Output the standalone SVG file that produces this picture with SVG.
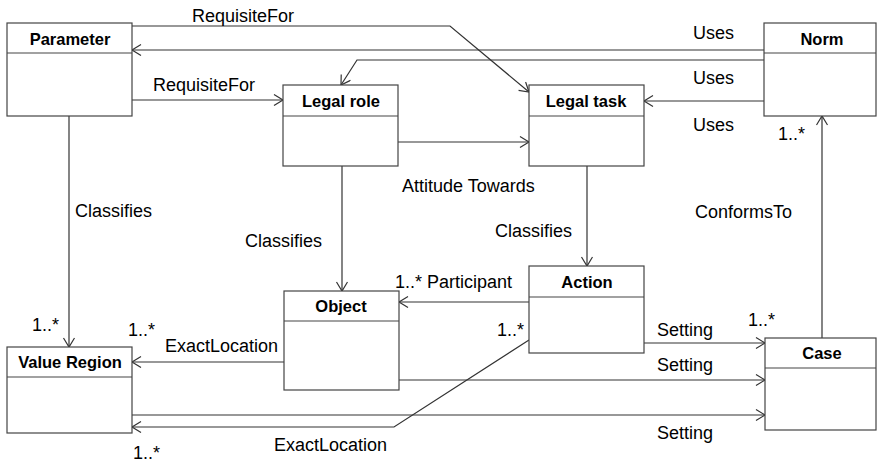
<svg xmlns="http://www.w3.org/2000/svg" width="877" height="464" viewBox="0 0 877 464">
  <style>
    .box { fill: #ffffff; stroke: #444444; stroke-width: 1.2; }
    .sep { stroke: #444444; stroke-width: 1.2; }
    .title { font-family: "Liberation Sans", Arial, sans-serif; font-size: 16.5px; font-weight: bold; fill: #000000; text-anchor: middle; }
    .lbl { font-family: "Liberation Sans", Arial, sans-serif; font-size: 18px; fill: #000000; }
    .edge { fill: none; stroke: #333333; stroke-width: 1.2; marker-end: url(#open); }
  </style>
  <defs>
    <marker id="open" markerUnits="userSpaceOnUse" markerWidth="12" markerHeight="14" refX="10" refY="6" orient="auto">
      <path d="M1,0.5 L10,6 L1,11.5" fill="none" stroke="#333333" stroke-width="1.2"/>
    </marker>
  </defs>
  <rect width="877" height="464" fill="#ffffff"/>

  <!-- associations -->
  <g id="connectors">
    <polyline class="edge" points="132,26 450,26 529,92"/>
    <polyline class="edge" points="764,50 132,50"/>
    <polyline class="edge" points="764,60 357,60 341,85"/>
    <polyline class="edge" points="132,100 283,100"/>
    <polyline class="edge" points="764,101 644,101"/>
    <polyline class="edge" points="398,142 529,142"/>
    <polyline class="edge" points="69,116 69,347"/>
    <polyline class="edge" points="342,166 342,291"/>
    <polyline class="edge" points="587,166 587,266"/>
    <polyline class="edge" points="822,338 822,116"/>
    <polyline class="edge" points="529,302 399,302"/>
    <polyline class="edge" points="284,362 132,362"/>
    <polyline class="edge" points="644,343 765,343"/>
    <polyline class="edge" points="399,380 765,380"/>
    <polyline class="edge" points="132,415 765,415"/>
    <polyline class="edge" points="529,340 394,427 132,427"/>

    <text class="lbl" x="192" y="22">RequisiteFor</text>
    <text class="lbl" x="153" y="91">RequisiteFor</text>
    <text class="lbl" x="693" y="39">Uses</text>
    <text class="lbl" x="693" y="84">Uses</text>
    <text class="lbl" x="693" y="131">Uses</text>
    <text class="lbl" x="778" y="140">1..*</text>
    <text class="lbl" x="402" y="192">Attitude Towards</text>
    <text class="lbl" x="75" y="217">Classifies</text>
    <text class="lbl" x="245" y="247">Classifies</text>
    <text class="lbl" x="495" y="237">Classifies</text>
    <text class="lbl" x="695" y="218">ConformsTo</text>
    <text class="lbl" x="395" y="288">1..* Participant</text>
    <text class="lbl" x="32" y="331">1..*</text>
    <text class="lbl" x="128" y="336">1..*</text>
    <text class="lbl" x="165" y="352">ExactLocation</text>
    <text class="lbl" x="497" y="336">1..*</text>
    <text class="lbl" x="657" y="336">Setting</text>
    <text class="lbl" x="748" y="326">1..*</text>
    <text class="lbl" x="657" y="371">Setting</text>
    <text class="lbl" x="657" y="439">Setting</text>
    <text class="lbl" x="274" y="451">ExactLocation</text>
    <text class="lbl" x="133" y="459">1..*</text>
  </g>

  <!-- classes -->
  <g id="parameter">
    <rect class="box" x="7" y="23" width="125" height="93"/>
    <line class="sep" x1="7" y1="53" x2="132" y2="53"/>
    <text class="title" x="70" y="45">Parameter</text>
  </g>
  <g id="legal-role">
    <rect class="box" x="283" y="85" width="115" height="81"/>
    <line class="sep" x1="283" y1="116" x2="398" y2="116"/>
    <text class="title" x="341" y="107">Legal role</text>
  </g>
  <g id="legal-task">
    <rect class="box" x="529" y="85" width="115" height="81"/>
    <line class="sep" x1="529" y1="116" x2="644" y2="116"/>
    <text class="title" x="586" y="107">Legal task</text>
  </g>
  <g id="norm">
    <rect class="box" x="764" y="23" width="112" height="93"/>
    <line class="sep" x1="764" y1="53" x2="876" y2="53"/>
    <text class="title" x="822" y="45">Norm</text>
  </g>
  <g id="object">
    <rect class="box" x="284" y="291" width="115" height="99"/>
    <line class="sep" x1="284" y1="321" x2="399" y2="321"/>
    <text class="title" x="341" y="312">Object</text>
  </g>
  <g id="action">
    <rect class="box" x="529" y="266" width="115" height="87"/>
    <line class="sep" x1="529" y1="297" x2="644" y2="297"/>
    <text class="title" x="587" y="288">Action</text>
  </g>
  <g id="value-region">
    <rect class="box" x="7" y="347" width="125" height="86"/>
    <line class="sep" x1="7" y1="377" x2="132" y2="377"/>
    <text class="title" x="70" y="368">Value Region</text>
  </g>
  <g id="case">
    <rect class="box" x="765" y="338" width="111" height="92"/>
    <line class="sep" x1="765" y1="368" x2="876" y2="368"/>
    <text class="title" x="822" y="359">Case</text>
  </g>
</svg>
